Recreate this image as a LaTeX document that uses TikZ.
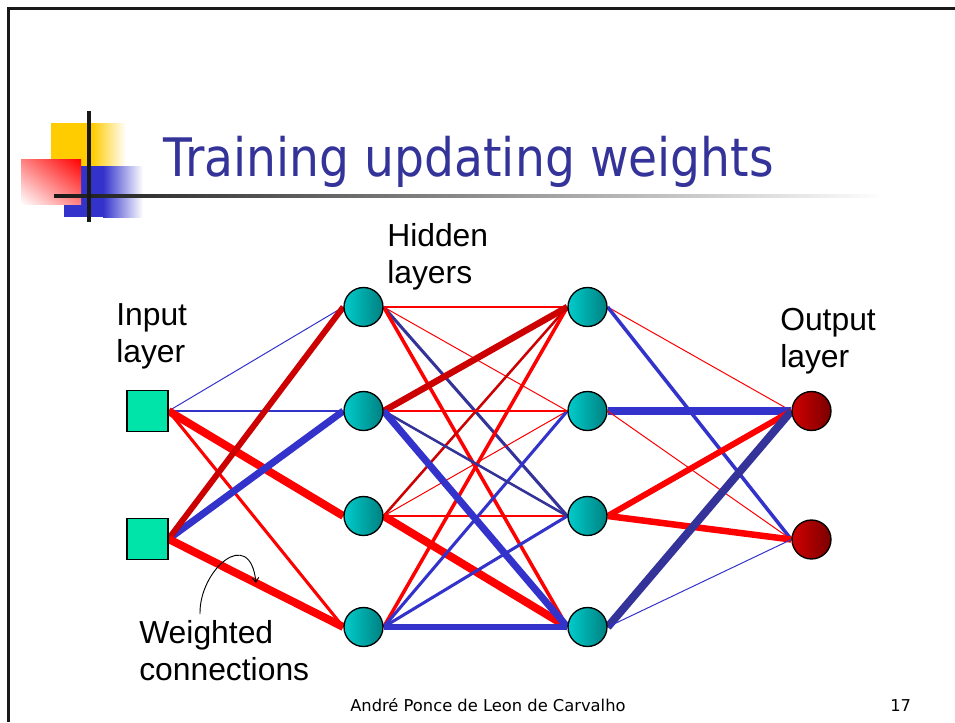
\documentclass[tikz,border=0pt]{standalone}
\usepackage{fontspec}
\setmainfont{Liberation Sans}
\newfontfamily\tahoma{DejaVu Sans}
\usetikzlibrary{backgrounds,arrows.meta,shadings}
\definecolor{titleblue}{HTML}{333399}
\definecolor{sqgreen}{HTML}{00E3A9}
\definecolor{hidL}{HTML}{00CCCC}
\definecolor{hidR}{HTML}{008080}
\definecolor{outL}{HTML}{D00000}
\definecolor{outR}{HTML}{7A0000}
\definecolor{lineRed}{HTML}{FF0000}
\definecolor{lineDRed}{HTML}{CC0000}
\definecolor{lineBlue}{HTML}{3333CC}
\definecolor{lineDBlue}{HTML}{333399}
\definecolor{logoYellow}{HTML}{FFCC00}
\definecolor{logoBlue}{HTML}{3333CC}
\definecolor{logoRed}{HTML}{FF0000}
\begin{document}
\begin{tikzpicture}[x=0.75393pt,y=-0.75393pt,
  insq/.style={rectangle, draw=black, line width=0.8pt, fill=sqgreen, minimum size=30.9pt, inner sep=0pt},
  hid/.style={circle, draw=black, line width=1pt, left color=hidL, right color=hidR, minimum size=29.4pt, inner sep=0pt},
  outn/.style={circle, draw=black, line width=1pt, left color=outL, right color=outR, minimum size=29.4pt, inner sep=0pt},
  lbl/.style={font=\fontsize{24}{27.9}\selectfont, inner sep=0pt, anchor=base west},
  footer/.style={font=\fontsize{12.3}{14}\tahoma, inner sep=0pt, anchor=base west},
  conn/.style={line cap=butt},
  cR/.style={conn, draw=lineRed},
  cDR/.style={conn, draw=lineDRed},
  cB/.style={conn, draw=lineBlue},
  cDB/.style={conn, draw=lineDBlue},
  w1/.style={line width=0.75pt},
  w2/.style={line width=1pt},
  w3/.style={line width=1.9pt},
  w4/.style={line width=2.3pt},
  w5/.style={line width=2.65pt},
  w6/.style={line width=4.5pt},
  w7/.style={line width=4.9pt},
  w8/.style={line width=5.3pt},
  w9/.style={line width=6pt}
]
\useasboundingbox (0,0) rectangle (955,722);

% frame
\draw[line width=2pt, black!90] (8.7,722) -- (8.7,8.7) -- (955,8.7);

% logo
\fill[logoYellow] (51,123) rectangle (92.5,167);
\shade[left color=logoYellow, right color=white] (92,123) rectangle (126,167);
\fill[logoBlue] (64,166) rectangle (103.5,217);
\shade[left color=logoBlue, right color=white] (103,166) rectangle (143,217);
\shade[upper left=logoRed!50!white, upper right=logoRed, lower left=white, lower right=logoRed!50!white] (21,159) rectangle (81,204);
\shade[left color=black!90, middle color=black!50, right color=white] (54,194.5) rectangle (885,197.5);
\fill[black!90] (87.3,111) rectangle (90.7,222);

% title
\node[inner sep=0pt, anchor=base west, text=titleblue] (title) at (163,176)
  {\scalebox{0.89}[1]{\fontsize{40}{48}\tahoma Training updating weights}};

% nodes
\node[insq] (i1) at (147.5,411) {};
\node[insq] (i2) at (147.5,539) {};
\node[hid] (a1) at (363.5,307) {};
\node[hid] (a2) at (363.5,411) {};
\node[hid] (a3) at (363.5,516) {};
\node[hid] (a4) at (363.5,627) {};
\node[hid] (b1) at (587.5,307) {};
\node[hid] (b2) at (587.5,411) {};
\node[hid] (b3) at (587.5,516) {};
\node[hid] (b4) at (587.5,627) {};
\node[outn] (o1) at (811.5,411) {};
\node[outn] (o2) at (811.5,539.5) {};

\begin{scope}[on background layer]
  \fill[white] (0,0) rectangle (955,722);
  % input -> hidden 1
  \draw[cB,w1] (i1.east) -- (a1.west);
  \draw[cB,w3] (i1.east) -- (a2.west);
  \draw[cR,w9] (i1.east) -- (a3.west);
  \draw[cR,w4] (i1.east) -- (a4.west);
  \draw[cB,w8] (i2.east) -- (a2.west);
  \draw[cDR,w6] (i2.east) -- (a1.west);
  \draw[cR,w9] (i2.east) -- (a4.west);
  % hidden 1 -> hidden 2
  \draw[cR,w2] (a1.east) -- (b1.west);
  \draw[cR,w1] (a1.east) -- (b2.west);
  \draw[cDB,w4] (a1.east) -- (b3.west);
  \draw[cR,w5] (a1.east) -- (b4.west);
  \draw[cDR,w3] (a3.east) -- (b1.west);
  \draw[cR,w1] (a3.east) -- (b2.west);
  \draw[cR,w2] (a3.east) -- (b3.west);
  \draw[cR,w9] (a3.east) -- (b4.west);
  \draw[cR,w5] (a4.east) -- (b1.west);
  \draw[cB,w4] (a4.east) -- (b2.west);
  \draw[cB,w4] (a4.east) -- (b3.west);
  \draw[cB,w6] (a4.east) -- (b4.west);
  \draw[cDR,w7] (a2.east) -- (b1.west);
  \draw[cR,w2] (a2.east) -- (b2.west);
  \draw[cDB,w3] (a2.east) -- (b3.west);
  \draw[cB,w8] (a2.east) -- (b4.west);
  % hidden 2 -> output
  \draw[cR,w1] (b1.east) -- (o1.west);
  \draw[cB,w5] (b1.east) -- (o2.west);
  \draw[cB,w8] (b2.east) -- (o1.west);
  \draw[cR,w1] (b2.east) -- (o2.west);
  \draw[cR,w6] (b3.east) -- (o1.west);
  \draw[cR,w7] (b3.east) -- (o2.west);
  \draw[cDB,w9] (b4.east) -- (o1.west);
  \draw[cB,w1] (b4.east) -- (o2.west);
\end{scope}

% labels
\node[lbl] (inlbl) at (116,325) {\begin{tabular}[t]{@{}l@{}}Input\\layer\end{tabular}};
\node[lbl] (hidlbl) at (387,246) {\begin{tabular}[t]{@{}l@{}}Hidden\\layers\end{tabular}};
\node[lbl] (outlbl) at (780,330) {\begin{tabular}[t]{@{}l@{}}Output\\layer\end{tabular}};
\node[lbl] (wlbl) at (139,643) {\begin{tabular}[t]{@{}l@{}}Weighted\\connections\end{tabular}};

% arrow to a weighted connection
\coordinate (wstart) at (200,614);
\coordinate (wend) at (256,583);
\draw[line width=0.7pt, -{Straight Barb[length=3.5pt,width=5pt]}] (wstart) .. controls (199,570) and (250,525) .. (wend);

% footer
\node[footer] (author) at (350,711) {André Ponce de Leon de Carvalho};
\node[footer] (pagenum) at (890,711) {17};
\end{tikzpicture}
\end{document}
